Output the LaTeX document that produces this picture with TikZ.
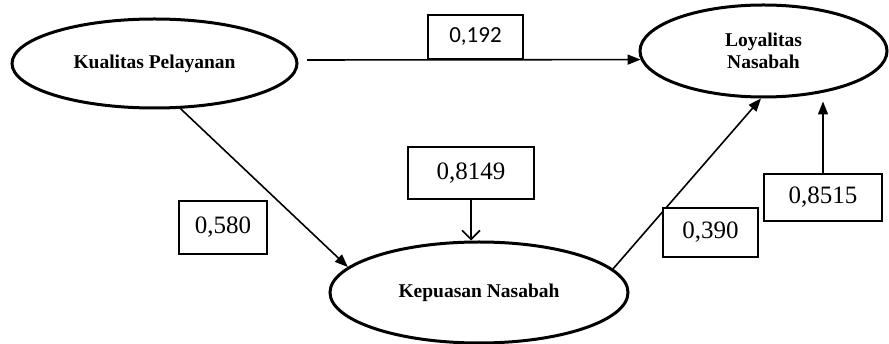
\documentclass[tikz,border=0pt]{standalone}
\usepackage{fontspec}
\setmainfont{Liberation Serif}
\newfontfamily\calfont{Carlito}
\usetikzlibrary{shapes.geometric,arrows.meta}
\tikzset{
  latent/.style={ellipse, draw, line width=3pt, inner sep=0pt, align=center,
     font=\fontsize{19.5}{22}\selectfont\bfseries},
  coef/.style={draw, fill=white, line width=1.2pt, inner sep=0pt,
     font=\fontsize{25}{28}\selectfont},
  path/.style={line width=1.6pt, -{Triangle[length=13pt,width=10pt]}},
  errpath/.style={line width=1.6pt, -{Straight Barb[length=9pt,width=18pt,line width=1.6pt]}}
}
\begin{document}
\begin{tikzpicture}[x=1pt,y=-1pt]
\useasboundingbox (0,0) rectangle (889,344);
% latent variables
\node[latent, minimum width=285pt, minimum height=89pt] (kp) at (154.5,63.5) {Kualitas Pelayanan};
\node[latent, minimum width=247pt, minimum height=92pt] (ly) at (763.5,51) {Loyalitas\\Nasabah};
\node[latent, minimum width=298pt, minimum height=101pt] (ks) at (479,292.5) {Kepuasan Nasabah};
% connectors
\coordinate (s1) at (307,60);
\draw[path] (s1) -- (ly.184);
\draw[path] (kp.-60) -- (ks.169);
\draw[path] (ks.10) -- (ly.-93);
% coefficient boxes
\node[coef, minimum width=95pt, minimum height=44pt, font=\fontsize{23}{26}\selectfont\calfont] (b1) at (475.5,37) {0,192};
\node[coef, minimum width=126pt, minimum height=52pt] (b2) at (471,173) {0,8149};
\node[coef, minimum width=88pt, minimum height=53pt] (b3) at (223,227.5) {0,580};
\node[coef, minimum width=118pt, minimum height=47pt] (b4) at (823,197.5) {0,8515};
\node[coef, minimum width=95pt, minimum height=49pt] (b5) at (710.5,232.5) {0,390};
% error arrows
\draw[errpath] (b2.south) -- (b2.south |- ks.north);
\draw[path, shorten >=3pt] (b4.north) -- (b4.north |- ly.south);
\end{tikzpicture}
\end{document}
